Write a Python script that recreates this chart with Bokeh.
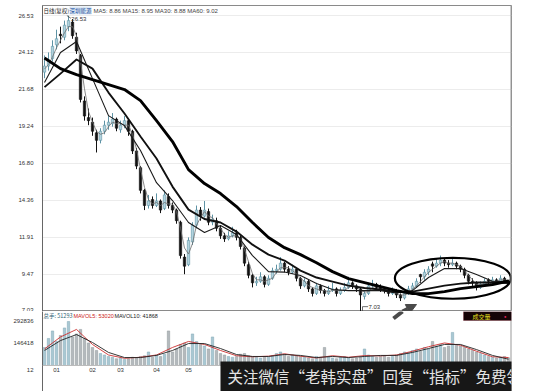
from bokeh.plotting import figure
from bokeh.layouts import column
from bokeh.models import (Range1d, FixedTicker, NumeralTickFormatter, Label, Span, Arrow,
                          NormalHead, BoxAnnotation)
from bokeh.core.properties import value
from bokeh.embed import file_html
from bokeh.resources import INLINE

# ---------------- data ----------------
period_label = "日线(复权)"
stock_name = "深圳能源"
banner_text = "关注微信“老韩实盘”回复“指标”免费领"
volume_tag = "成交量"
first_month_label = "12"
month_labels = ["01", "02", "03", "04", "05"]
month_pos = [3, 12, 19, 28, 36]
price_ticks = [7.03, 9.47, 11.91, 14.36, 16.80, 19.24, 21.68, 24.12, 26.53]
vol_ticks = [146418, 292836]

opens = [22.8, 23.2, 23.7, 24.6, 25.3, 25.1, 25.8, 26.1, 25.1, 23.9,
         20.9, 19.8, 19.5, 18.8, 18.3, 18.9, 19.3, 19.4, 19.7, 19.0,
         19.3, 19.6, 18.9, 17.6, 16.5, 15.0, 14.0, 14.4, 14.0, 14.3,
         13.8, 14.6, 14.0, 13.7, 12.9, 10.6, 10.1, 11.6, 12.7, 13.7,
         13.3, 13.6, 12.9, 13.0, 12.5, 12.0, 11.8, 12.0, 12.2, 11.9,
         11.2, 10.1, 9.4, 8.9, 9.0, 9.3, 8.8, 9.2, 9.7, 9.8,
         10.2, 9.8, 9.6, 9.8, 9.2, 8.7, 9.0, 8.5, 8.2, 8.7,
         8.4, 8.2, 8.4, 8.5, 8.2, 8.4, 8.6, 8.9, 8.7, 8.5,
         8.0, 8.2, 8.7, 8.8, 8.6, 8.5, 8.4, 8.2, 8.4, 8.1,
         7.9, 8.2, 8.5, 8.7, 9.45, 9.3, 9.6, 10.15, 10.0, 10.2,
         10.4, 10.2, 10.1, 10.2, 10.0, 9.8, 9.4, 9.0, 8.9, 8.6,
         8.8, 9.1, 9.0, 9.1, 9.0, 9.2, 9.0]
highs = [23.9, 24.1, 24.9, 25.6, 25.8, 26.2, 26.53, 26.3, 25.4, 24.0,
         21.2, 20.4, 19.8, 19.0, 19.1, 19.6, 19.9, 20.1, 19.8, 19.6,
         19.9, 19.7, 19.0, 17.8, 16.6, 15.1, 14.7, 14.6, 14.8, 14.4,
         15.0, 14.8, 14.2, 13.8, 13.0, 10.8, 11.9, 12.9, 14.0, 13.9,
         14.3, 13.8, 13.4, 13.2, 12.7, 12.2, 12.3, 12.6, 12.4, 12.0,
         11.3, 10.3, 9.5, 9.3, 9.6, 9.4, 9.4, 9.9, 10.1, 10.6,
         10.3, 10.0, 10.1, 9.9, 9.3, 9.2, 9.1, 8.6, 8.9, 8.8,
         8.5, 8.7, 8.9, 8.6, 8.6, 8.9, 9.3, 9.0, 8.8, 8.6,
         8.4, 8.9, 9.1, 8.9, 8.8, 8.6, 8.5, 8.6, 8.5, 8.2,
         8.4, 8.7, 8.9, 9.2, 9.5, 9.8, 10.0, 10.3, 10.5, 10.7,
         10.5, 10.4, 10.6, 10.3, 10.1, 9.9, 9.5, 9.2, 9.0, 9.0,
         9.2, 9.2, 9.3, 9.2, 9.4, 9.3, 9.1]
lows = [22.4, 22.9, 23.5, 24.3, 24.7, 24.9, 25.5, 25.0, 24.0, 20.8,
        19.6, 19.3, 18.6, 17.5, 18.1, 18.7, 19.0, 19.2, 18.9, 18.8,
        19.1, 18.6, 17.4, 16.4, 14.8, 13.7, 13.8, 13.8, 13.9, 13.5,
        13.7, 13.8, 13.5, 12.8, 10.5, 9.47, 10.0, 11.4, 12.5, 13.0,
        13.2, 12.7, 12.7, 12.3, 11.8, 11.6, 11.7, 11.9, 11.7, 11.1,
        10.0, 9.2, 8.6, 8.7, 8.9, 8.6, 8.7, 9.1, 9.5, 9.7,
        9.6, 9.4, 9.5, 9.0, 8.5, 8.6, 8.3, 8.0, 8.1, 8.2,
        8.0, 8.1, 8.3, 8.0, 8.1, 8.3, 8.5, 8.5, 8.3, 7.03,
        7.8, 8.1, 8.6, 8.4, 8.3, 8.2, 8.0, 8.1, 7.9, 7.7,
        7.8, 8.1, 8.4, 8.6, 8.9, 9.1, 9.4, 9.6, 9.9, 10.0,
        10.0, 9.9, 10.0, 9.8, 9.6, 9.2, 8.8, 8.7, 8.4, 8.5,
        8.7, 8.8, 8.9, 8.8, 8.9, 8.9, 8.8]
closes = [23.2, 23.6, 24.5, 25.0, 25.2, 25.9, 26.2, 25.2, 24.2, 21.0,
          19.9, 19.6, 18.9, 18.3, 18.9, 19.3, 19.5, 19.7, 19.1, 19.3,
          19.6, 18.9, 17.6, 16.6, 15.0, 14.0, 14.3, 14.0, 14.3, 13.7,
          14.7, 14.0, 13.7, 13.0, 10.7, 10.0, 11.7, 12.7, 13.7, 13.3,
          13.7, 12.9, 13.1, 12.5, 12.0, 11.8, 12.0, 12.2, 11.9, 11.3,
          10.2, 9.4, 8.9, 9.0, 9.3, 8.8, 9.2, 9.7, 9.8, 10.2,
          9.8, 9.6, 9.8, 9.2, 8.7, 9.0, 8.5, 8.2, 8.7, 8.4,
          8.2, 8.4, 8.5, 8.2, 8.4, 8.6, 8.9, 8.7, 8.5, 8.1,
          8.2, 8.7, 8.8, 8.6, 8.5, 8.4, 8.2, 8.4, 8.1, 7.9,
          8.2, 8.5, 8.7, 9.0, 9.3, 9.6, 9.8, 10.0, 10.2, 10.4,
          10.2, 10.1, 10.2, 10.0, 9.8, 9.4, 9.0, 8.9, 8.6, 8.8,
          9.0, 9.0, 9.1, 9.0, 9.2, 9.0, 8.9]
ma5 = [23.0, 23.3, 23.8, 24.4, 24.9, 25.4, 25.8, 25.8, 25.2, 23.5,
       21.7, 20.2, 19.5, 18.9, 18.7, 18.8, 19.2, 19.5, 19.4, 19.4,
       19.3, 19.3, 18.7, 17.7, 16.4, 15.2, 14.4, 14.1, 14.2, 14.0,
       14.2, 14.1, 14.1, 13.6, 12.5, 11.2, 10.8, 11.5, 12.7, 13.2,
       13.6, 13.3, 13.2, 12.8, 12.5, 12.1, 11.9, 12.0, 12.0, 11.8,
       11.1, 10.3, 9.5, 9.1, 9.1, 9.0, 9.1, 9.2, 9.6, 9.9,
       9.9, 9.9, 9.7, 9.5, 9.2, 9.0, 8.7, 8.6, 8.5, 8.4,
       8.4, 8.3, 8.4, 8.4, 8.4, 8.4, 8.6, 8.7, 8.7, 8.4,
       8.3, 8.3, 8.6, 8.7, 8.6, 8.5, 8.4, 8.3, 8.2, 8.1,
       8.1, 8.2, 8.5, 8.7, 9.0, 9.3, 9.6, 9.8, 10.0, 10.2,
       10.3, 10.2, 10.2, 10.1, 10.0, 9.7, 9.4, 9.1, 8.8, 8.8,
       8.8, 8.9, 9.0, 9.0, 9.1, 9.1, 8.86]
# slower averages, read every 4th bar
ma_nodes = [0, 4, 8, 12, 16, 20, 24, 28, 32, 36, 40, 44, 48, 52, 56,
            60, 64, 68, 72, 76, 80, 84, 88, 92, 96, 100, 104, 108, 112, 116]
ma15 = [22.11, 24.09, 24.82, 22.37, 19.93, 19.27, 17.63, 15.51, 14.33, 12.88,
        12.22, 12.68, 12.09, 10.70, 9.64, 9.61, 9.38, 8.85, 8.46, 8.39,
        8.39, 8.39, 8.23, 8.39, 9.25, 9.84, 9.84, 9.45, 9.01, 8.95]
ma30 = [21.81, 22.70, 23.63, 23.03, 21.45, 20.07, 18.55, 17.10, 15.25, 13.73,
        13.11, 12.88, 12.28, 11.42, 10.76, 10.37, 9.71, 9.25, 8.98, 8.72,
        8.56, 8.46, 8.29, 8.32, 8.52, 8.72, 8.85, 8.92, 8.92, 8.88]
ma60 = [23.73, 23.03, 22.64, 22.31, 21.98, 21.65, 20.92, 19.60, 18.22, 16.37,
        15.45, 14.79, 13.93, 12.88, 11.89, 11.22, 10.76, 10.23, 9.64, 9.18,
        8.92, 8.65, 8.39, 8.19, 8.19, 8.32, 8.52, 8.65, 8.79, 9.02]

volumes = [120000, 180000, 230000, 160000, 200000, 250000, 292836, 190000, 210000, 240000,
           180000, 150000, 120000, 100000, 80000, 70000, 60000, 55000, 45000, 50000,
           40000, 45000, 55000, 50000, 60000, 65000, 90000, 55000, 70000, 60000,
           75000, 230000, 90000, 110000, 140000, 150000, 120000, 210000, 160000, 140000,
           130000, 110000, 190000, 100000, 80000, 70000, 60000, 55000, 60000, 75000,
           80000, 65000, 60000, 55000, 50000, 60000, 55000, 65000, 80000, 90000,
           75000, 60000, 70000, 65000, 60000, 55000, 50000, 45000, 60000, 55000,
           120000, 60000, 50000, 45000, 55000, 60000, 50000, 45000, 50000, 55000,
           110000, 70000, 60000, 55000, 60000, 65000, 55000, 60000, 70000, 80000,
           90000, 85000, 100000, 110000, 95000, 120000, 110000, 160000, 130000, 140000,
           120000, 130000, 220000, 140000, 130000, 120000, 110000, 100000, 90000, 80000,
           70000, 60000, 55000, 50000, 55000, 60000, 51293]
mavol5 = [110000, 190000, 240000, 140000, 70000, 48000, 55000, 70000, 120000, 160000,
          140000, 100000, 65000, 58000, 62000, 78000, 62000, 50000, 65000, 55000,
          66000, 64000, 70000, 95000, 125000, 150000, 135000, 95000, 58000, 53020]
mavol10 = [100000, 166000, 206000, 153000, 87000, 53000, 53000, 67000, 100000, 146000,
           146000, 113000, 73000, 60000, 60000, 73000, 67000, 53000, 60000, 53000,
           60000, 67000, 67000, 87000, 113000, 140000, 140000, 106000, 67000, 41868]

highlight_start, highlight_end = 88, 116

# ---------------- layout constants (pixels) ----------------
LATIN = "Liberation Sans"
CJK = "Noto Sans CJK SC"
BAR_PX = 4.0                     # pixels per bar
FRAME_LEFT = 42
PRICE_TOP, PRICE_BOTTOM = 5, 311
PRICE_FRAME_W = 469
VOL_BASE_PX = 365                # page y of zero volume
VOL_PER_PX = 6655.0              # shares per pixel
WIN_W, WIN_H = 550, 391
RIGHT_BORDER = WIN_W - FRAME_LEFT - PRICE_FRAME_W

n = len(closes)
idx = list(range(n))
is_up = [c >= o for o, c in zip(opens, closes)]
body_top = [max(o, c) for o, c in zip(opens, closes)]
body_bot = [min(o, c) for o, c in zip(opens, closes)]
fills = ["#b3d3de" if u else "#111111" for u in is_up]
edges = ["#5e93a5" if u else "#111111" for u in is_up]

x0 = -0.5
right_edge = x0 + PRICE_FRAME_W / BAR_PX
x_range = Range1d(x0, right_edge)


def bar_x(page_x):
    return x0 + (page_x - FRAME_LEFT) / BAR_PX


# ---------------- price panel ----------------
px_per_price = 15.16
p_lo = 7.03 - (PRICE_BOTTOM - 310.7) / px_per_price
p_hi = p_lo + (PRICE_BOTTOM - PRICE_TOP) / px_per_price
p = figure(width=WIN_W, height=PRICE_BOTTOM, x_range=x_range, y_range=Range1d(p_lo, p_hi),
           output_backend="svg", toolbar_location=None, x_axis_location=None,
           min_border_left=FRAME_LEFT, min_border_right=RIGHT_BORDER,
           min_border_top=PRICE_TOP, min_border_bottom=0,
           outline_line_color="#8a8a8a", outline_line_width=1)
p.yaxis.ticker = FixedTicker(ticks=price_ticks)
p.yaxis.formatter = NumeralTickFormatter(format="0.00")
p.yaxis.major_label_text_font_size = "6px"
p.yaxis.major_label_text_font = LATIN
p.yaxis.major_label_text_color = "#333333"
p.yaxis.major_tick_line_color = None
p.yaxis.minor_tick_line_color = None
p.yaxis.axis_line_color = "#666666"
p.yaxis.major_label_standoff = 3
p.xgrid.visible = False
p.ygrid.grid_line_color = "#ececec"

p.segment(x0=idx, y0=lows, x1=idx, y1=highs, line_color=edges, line_width=1)
p.vbar(x=idx, width=0.6, top=body_top, bottom=body_bot, fill_color=fills,
       line_color=edges, line_width=0.6)

p.line(idx, ma5, line_color="#6d6d6d", line_width=0.8)
p.line(ma_nodes, ma15, line_color="#1a1a1a", line_width=1.1, line_join="round")
p.line(ma_nodes, ma30, line_color="#111111", line_width=1.9, line_join="round")
p.line(ma_nodes, ma60, line_color="#000000", line_width=2.9, line_join="round")

# highlight ellipse around the last stretch
seg_hi = max(highs[highlight_start:highlight_end + 1])
seg_lo = min(lows[highlight_start:highlight_end + 1])
p.ellipse(x=[(highlight_start + highlight_end) / 2 + 0.1], y=[(seg_hi + seg_lo) / 2],
          width=[highlight_end - highlight_start + 1], height=[(seg_hi - seg_lo) * 0.9],
          fill_color=None, line_color="#000000", line_width=2.2)

# pointer arrow: head in the price panel, tail continues into the volume panel
arrow_joint_x = bar_x(402)
p.add_layout(Arrow(end=NormalHead(size=10, fill_color="#4a4a4a", line_color="#4a4a4a"),
                   x_start=arrow_joint_x, y_start=p_lo,
                   x_end=bar_x(416), y_end=7.03 + (310.7 - 304) / px_per_price,
                   line_color="#4a4a4a", line_width=4))

# max / min markers
pk = highs.index(max(highs))
lw = lows.index(min(lows))
p.segment(x0=[pk - 0.4], y0=[highs[pk]], x1=[pk + 0.6], y1=[highs[pk] - 0.18],
          line_color="#333333", line_width=0.7)
p.add_layout(Label(x=pk + 0.7, y=highs[pk] - 0.2, text=f"{highs[pk]:.2f}",
                   text_font=LATIN, text_font_size="6px", text_color="#333333",
                   text_baseline="middle"))
p.segment(x0=[lw + 0.5, lw + 0.5], y0=[lows[lw] + 0.02, lows[lw] + 0.3],
          x1=[lw + 0.5, lw + 1.9], y1=[lows[lw] + 0.3, lows[lw] + 0.3],
          line_color="#333333", line_width=0.7)
p.add_layout(Label(x=lw + 2.0, y=lows[lw] + 0.3, text=f"{lows[lw]:.2f}",
                   text_font=LATIN, text_font_size="6px", text_color="#333333",
                   text_baseline="middle"))

# header (screen units measured from the frame's lower-left corner)
hdr_y = PRICE_BOTTOM - 10
p.add_layout(Label(x=1, y=hdr_y, x_units="screen", y_units="screen", text=period_label,
                   text_font=CJK, text_font_size="5.5px", text_color="#222222",
                   text_baseline="middle"))
p.add_layout(Label(x=27, y=hdr_y, x_units="screen", y_units="screen", text=stock_name,
                   text_font=CJK, text_font_size="5.5px", text_color="#2050a0",
                   background_fill_color="#dde8f4", text_baseline="middle"))
ma_text = (f"MA5: {ma5[-1]:.2f} MA15: {ma15[-1]:.2f} "
           f"MA30: {ma30[-1]:.2f} MA60: {ma60[-1]:.2f}")
p.add_layout(Label(x=51, y=hdr_y, x_units="screen", y_units="screen", text=ma_text,
                   text_font=LATIN, text_font_size="6px", text_color="#444444",
                   text_baseline="middle"))
p.add_layout(Span(location=right_edge, dimension="height", line_color="#9a9a9a", line_width=2))

# ---------------- volume panel ----------------
vol_h = WIN_H - PRICE_BOTTOM
v_top = (VOL_BASE_PX - PRICE_BOTTOM) * VOL_PER_PX
v_bot = -(WIN_H - VOL_BASE_PX) * VOL_PER_PX
v = figure(width=WIN_W, height=vol_h, x_range=x_range, y_range=Range1d(v_bot, v_top),
           output_backend="svg", toolbar_location=None, x_axis_location=None,
           min_border_left=FRAME_LEFT, min_border_right=RIGHT_BORDER, min_border_top=0,
           min_border_bottom=0, outline_line_color=None)
vfill = ["#a9c8d3" if u else "#b4b9bd" for u in is_up]
vedge = ["#7fa6b4" if u else "#8e969b" for u in is_up]
v.vbar(x=idx, width=0.6, top=volumes, bottom=0, fill_color=vfill, line_color=vedge,
       line_width=0.5)
v.line(ma_nodes, mavol5, line_color="#cc3030", line_width=0.9)
v.line(ma_nodes, mavol10, line_color="#222222", line_width=0.9)

# month labels sit just below the zero line
label_y = -(369 - VOL_BASE_PX) * VOL_PER_PX
v.yaxis.ticker = FixedTicker(ticks=[label_y] + vol_ticks)
v.yaxis.major_label_overrides = {label_y: first_month_label}
v.yaxis.formatter = NumeralTickFormatter(format="0")
v.yaxis.major_label_text_font_size = "6px"
v.yaxis.major_label_text_font = LATIN
v.yaxis.major_label_text_color = "#333333"
v.yaxis.major_tick_line_color = None
v.yaxis.minor_tick_line_color = None
v.yaxis.axis_line_color = "#666666"
v.yaxis.major_label_standoff = 3
v.xgrid.visible = False
v.ygrid.visible = False
v.text(x=month_pos, y=[label_y] * len(month_pos), text=month_labels,
       text_font=value(LATIN), text_font_size="6px", text_color="#333333",
       text_align="center", text_baseline="middle")
v.add_layout(Span(location=0, dimension="width", line_color="#bbbbbb", line_width=1))

hdr_vy = WIN_H - 315
v.add_layout(Label(x=1, y=hdr_vy, x_units="screen", y_units="screen",
                   text=f"总手: {volumes[-1]}", text_font=CJK, text_font_size="5.5px",
                   text_color="#2f6475", text_baseline="middle"))
v.add_layout(Label(x=31, y=hdr_vy, x_units="screen", y_units="screen",
                   text=f"MAVOL5: {mavol5[-1]}", text_font=LATIN, text_font_size="5.5px",
                   text_color="#cc2020", text_baseline="middle"))
v.add_layout(Label(x=72, y=hdr_vy, x_units="screen", y_units="screen",
                   text=f"MAVOL10: {mavol10[-1]}", text_font=LATIN, text_font_size="5.5px",
                   text_color="#222222", text_baseline="middle"))

v.add_layout(Span(location=right_edge, dimension="height", line_color="#9a9a9a", line_width=2))

# arrow tail inside the volume panel
v.segment(x0=[bar_x(393)], y0=[(VOL_BASE_PX - 318) * VOL_PER_PX],
          x1=[arrow_joint_x], y1=[v_top], line_color="#4a4a4a", line_width=4)

# "成交量" tag box in the top-right corner
tag_left = bar_x(463)
v.add_layout(BoxAnnotation(left=tag_left, right=right_edge, top=v_top,
                           bottom=(VOL_BASE_PX - 320) * VOL_PER_PX,
                           fill_color="#150306", fill_alpha=1,
                           line_color="#7a1020", line_width=1))
v.add_layout(Label(x=(tag_left + right_edge) / 2 - 1.5, y=hdr_vy - 0.5, x_units="data",
                   y_units="screen", text=volume_tag, text_font=CJK, text_font_size="6px",
                   text_color="#e8e020", text_align="center", text_baseline="middle"))
v.add_layout(Label(x=right_edge - 1.6, y=hdr_vy - 0.5, y_units="screen", text="●",
                   text_font=LATIN, text_font_size="4px", text_color="#ff2a6a",
                   text_align="center", text_baseline="middle"))

# dark banner across the lower right (runs past the frame to the window edge)
banner_left = bar_x(220)
v.add_layout(BoxAnnotation(left=banner_left, right=bar_x(WIN_W + 2),
                           top=(VOL_BASE_PX - 361) * VOL_PER_PX,
                           bottom=v_bot, fill_color="#171717", fill_alpha=1, line_color=None))
v.add_layout(Label(x=bar_x(227), y=-(375 - VOL_BASE_PX) * VOL_PER_PX, text=banner_text,
                   text_font=CJK, text_font_size="15.5px", text_color="#e4e4e4",
                   text_baseline="middle"))

layout = column(p, v, spacing=0)
open("out.html", "w").write(file_html(layout, INLINE))
